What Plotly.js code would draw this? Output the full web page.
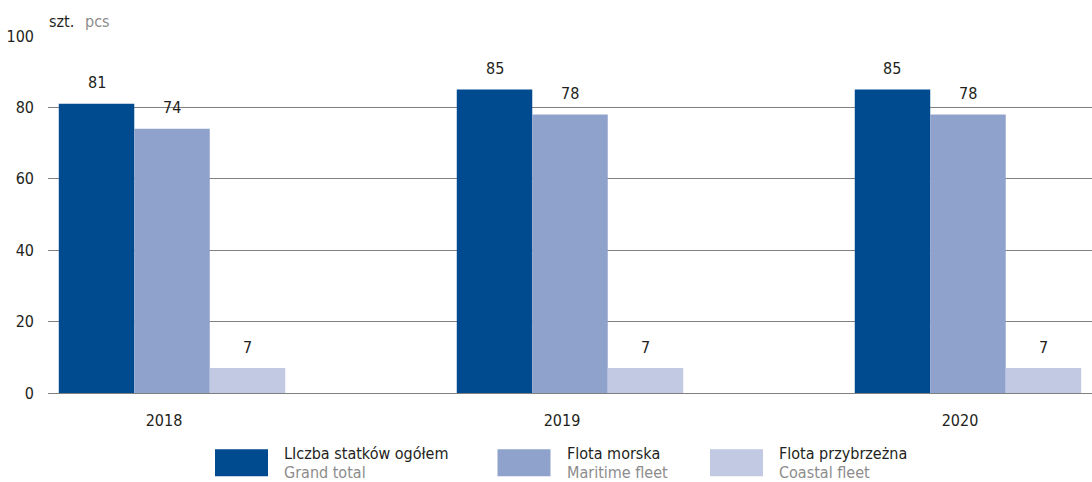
<!DOCTYPE html>
<html><head><meta charset="utf-8">
<script src="https://cdn.plot.ly/plotly-3.0.1.min.js"></script>
<style>html,body{margin:0;padding:0;background:#fff}#chart{width:1092px;height:482px}</style>
</head><body><div id="chart"></div>
<script>
const years = ['2018', '2019', '2020'];
const grandTotal = [81, 85, 85];
const maritime = [74, 78, 78];
const coastal = [7, 7, 7];
const seriesPL = ['LIczba statków ogółem', 'Flota morska', 'Flota przybrzeżna'];
const seriesEN = ['Grand total', 'Maritime fleet', 'Coastal fleet'];
const yTicks = [0, 20, 40, 60, 80, 100];
const unitPL = 'szt.';
const unitEN = 'pcs';

const colors = ['#004a8f', '#8fa2cb', '#c1c9e3'];
const FONT = '"Liberation Sans Narrow","Arial Narrow","DejaVu Sans Condensed",sans-serif';
const DARK = '#231f20', GREY = '#8c8c8c';
const FS = 16;

const W = 1092, H = 482, L = 48, R = 0, T = 36, B = 89.3;
const pw = W - L - R, ph = H - T - B;
const px = p => (p - L) / pw;
const py = p => (H - B - p) / ph;
const series = [grandTotal, maritime, coastal];
const barPx = 75.5;

const traces = series.map((s, i) => ({
  type: 'bar', x: years, y: s, name: seriesPL[i],
  marker: {color: colors[i], line: {width: 0}},
  hoverinfo: 'x+y', showlegend: false
}));

const annotations = [];
series.forEach((s, i) => {
  s.forEach((v, j) => annotations.push({
    x: j, y: v, xref: 'x', yref: 'y', text: String(v), showarrow: false,
    xshift: (i - 1) * barPx, yshift: 21, yanchor: 'middle', xanchor: 'center',
    font: {size: FS, color: DARK, family: FONT}
  }));
});

const shapes = [];
const legX = [215, 497.5, 710];
legX.forEach((x0, i) => {
  shapes.push({type: 'rect', xref: 'paper', yref: 'paper',
    x0: px(x0), x1: px(x0 + 53), y0: py(476), y1: py(449),
    fillcolor: colors[i], line: {width: 0}});
  annotations.push({xref: 'paper', yref: 'paper', x: px(x0 + 67), y: py(453),
    xanchor: 'left', yanchor: 'middle', showarrow: false, text: seriesPL[i],
    font: {size: FS, color: DARK, family: FONT}});
  annotations.push({xref: 'paper', yref: 'paper', x: px(x0 + 67), y: py(472.5),
    xanchor: 'left', yanchor: 'middle', showarrow: false, text: seriesEN[i],
    font: {size: FS, color: GREY, family: FONT}});
});

annotations.push({xref: 'paper', yref: 'paper', x: px(47), y: py(22),
  xanchor: 'left', yanchor: 'middle', showarrow: false, text: unitPL,
  font: {size: FS, color: DARK, family: FONT}});
annotations.push({xref: 'paper', yref: 'paper', x: px(83), y: py(22),
  xanchor: 'left', yanchor: 'middle', showarrow: false, text: unitEN,
  font: {size: FS, color: GREY, family: FONT}});

const layout = {
  width: W, height: H,
  margin: {l: L, r: R, t: T, b: B, pad: 0},
  paper_bgcolor: '#fff', plot_bgcolor: '#fff',
  font: {family: FONT, size: FS, color: DARK},
  barmode: 'group', bargap: 0.431, bargroupgap: 0,
  showlegend: false,
  xaxis: {
    type: 'category', range: [-0.3116, 2.3116], showgrid: false, zeroline: false,
    showline: false, ticks: '', tickfont: {size: FS, color: DARK, family: FONT},
    ticklabelshift: -8, ticklabelstandoff: 16, fixedrange: true
  },
  yaxis: {
    range: [0, 100], tickvals: yTicks, ticktext: yTicks.map(String),
    showgrid: true, gridcolor: '#808080', gridwidth: 1,
    zeroline: true, zerolinecolor: '#808080', zerolinewidth: 1,
    showline: false, ticks: '', ticklabelstandoff: 13,
    tickfont: {size: FS, color: DARK, family: FONT}, fixedrange: true
  },
  shapes: shapes,
  annotations: annotations
};

Plotly.newPlot('chart', traces, layout, {displayModeBar: false, staticPlot: true});
</script>
</body></html>
